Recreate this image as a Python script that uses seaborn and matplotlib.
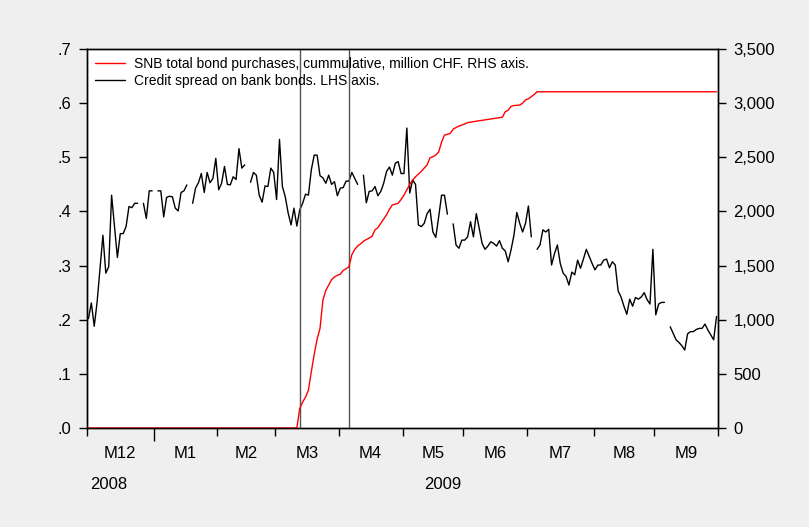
import numpy as np
import pandas as pd
import matplotlib
matplotlib.use("Agg")
import matplotlib.pyplot as plt
import matplotlib.transforms as mtransforms
from matplotlib.lines import Line2D
from matplotlib.ticker import FuncFormatter, FixedLocator
import seaborn as sns

# Business-day calendar, 1 Dec 2008 - 30 Sep 2009
dates = pd.bdate_range("2008-12-01", "2009-09-30")

# Credit spread on bank bonds (LHS), NaN on US market holidays
spread = [
    0.202, 0.231, 0.188, 0.233, 0.295, 0.356, 0.286, 0.298, 0.430, 0.372,
    0.315, 0.359, 0.359, 0.372, 0.409, 0.407, 0.415, 0.415, np.nan, 0.415,
    0.387, 0.438, 0.438, np.nan, 0.438, 0.438, 0.390, 0.426, 0.428, 0.427,
    0.406, 0.401, 0.435, 0.438, 0.449, np.nan, 0.415, 0.443, 0.453, 0.470,
    0.435, 0.472, 0.453, 0.461, 0.498, 0.440, 0.452, 0.483, 0.450, 0.449,
    0.464, 0.459, 0.516, 0.480, 0.486, np.nan, 0.454, 0.472, 0.467, 0.430,
    0.417, 0.447, 0.446, 0.480, 0.472, 0.422, 0.533, 0.446, 0.427, 0.397,
    0.375, 0.406, 0.373, 0.403, 0.415, 0.432, 0.430, 0.477, 0.504, 0.504,
    0.466, 0.462, 0.452, 0.467, 0.450, 0.455, 0.429, 0.443, 0.444, 0.456,
    0.456, 0.472, 0.461, 0.450, np.nan, 0.467, 0.416, 0.437, 0.438, 0.446,
    0.429, 0.437, 0.452, 0.474, 0.482, 0.467, 0.489, 0.492, 0.470, 0.470,
    0.554, 0.434, 0.458, 0.450, 0.375, 0.372, 0.378, 0.396, 0.404, 0.362,
    0.352, 0.390, 0.430, 0.430, 0.395, np.nan, 0.377, 0.338, 0.332, 0.347,
    0.347, 0.353, 0.381, 0.353, 0.396, 0.369, 0.341, 0.330, 0.336, 0.344,
    0.341, 0.336, 0.346, 0.332, 0.327, 0.307, 0.329, 0.356, 0.398, 0.378,
    0.362, 0.378, 0.410, 0.353, np.nan, 0.330, 0.338, 0.366, 0.362, 0.367,
    0.301, 0.322, 0.338, 0.304, 0.286, 0.280, 0.264, 0.288, 0.283, 0.310,
    0.295, 0.312, 0.330, 0.317, 0.304, 0.292, 0.301, 0.301, 0.310, 0.312,
    0.296, 0.307, 0.301, 0.253, 0.242, 0.225, 0.210, 0.238, 0.225, 0.241,
    0.238, 0.242, 0.250, 0.237, 0.229, 0.330, 0.209, 0.229, 0.232, 0.232,
    np.nan, 0.187, 0.175, 0.163, 0.158, 0.152, 0.144, 0.174, 0.178, 0.178,
    0.182, 0.184, 0.184, 0.192, 0.181, 0.172, 0.163, 0.206,
]

# SNB cumulative bond purchases, million CHF (RHS)
purchases = (
    [0] * 73
    + [180, 240, 285, 350, 520, 680, 820, 920, 1180, 1270,
       1320, 1370, 1395, 1410, 1420, 1455, 1470, 1490, 1600, 1650,
       1680, 1700, 1725, 1740, 1755, 1770, 1830, 1850, 1890, 1930,
       1970, 2020, 2060, 2068, 2075, 2110, 2150, 2200, 2250, 2290,
       2320, 2345, 2370, 2400, 2430, 2495, 2505, 2520, 2550, 2640,
       2705, 2712, 2721, 2760, 2775, 2788, 2798, 2808, 2820, 2825,
       2829, 2833, 2837, 2841, 2845, 2849, 2853, 2857, 2861, 2865,
       2870, 2920, 2935, 2970, 2978, 2980, 2982, 3000, 3030, 3040,
       3060, 3080]
    + [3105] * 63
)

event_dates = ["2009-03-12", "2009-04-06"]
month_labels = ["M12", "M1", "M2", "M3", "M4", "M5", "M6", "M7", "M8", "M9"]
year_labels = ["2008", "2009"]

legend_labels = [
    "SNB total bond purchases, cummulative, million CHF. RHS axis.",
    "Credit spread on bank bonds. LHS axis.",
]

day = np.arange(len(dates))
df = pd.DataFrame({"day": day, "spread": spread, "purchases": purchases})
# segment id so the spread line breaks at missing days
df["seg"] = df["spread"].isna().cumsum()
spread_df = df.dropna(subset=["spread"])

sns.set_theme(style="white")
plt.rcParams["font.family"] = ["Liberation Sans", "DejaVu Sans"]
plt.rcParams["text.color"] = "black"
plt.rcParams["xtick.color"] = "black"
plt.rcParams["ytick.color"] = "black"
plt.rcParams["axes.labelcolor"] = "black"

W, H = 809, 527
fig = plt.figure(figsize=(W / 100, H / 100), dpi=100, facecolor="#efefef")
ax = fig.add_axes([87 / W, (H - 428) / H, 631 / W, 379 / H])
ax.set_facecolor("white")
ax2 = ax.twinx()

sns.lineplot(data=spread_df, x="day", y="spread", units="seg", estimator=None,
             color="black", lw=1.0, ax=ax, legend=False)
sns.lineplot(data=df, x="day", y="purchases", color="#ff0000", lw=1.0,
             ax=ax2, legend=False)

for d in event_dates:
    ax.axvline(dates.get_loc(pd.Timestamp(d)), color="#555555", lw=1.0, zorder=3)

ax.set_xlim(-0.5, len(dates) - 0.5)
ax.set_ylim(0, 0.7)
ax2.set_ylim(0, 3500)
ax.set_yticks(np.arange(0, 0.71, 0.1))
ax2.set_yticks(np.arange(0, 3501, 500))
ax.yaxis.set_major_formatter(FuncFormatter(lambda v, p: f"{v:.1f}".lstrip("0")))
ax2.yaxis.set_major_formatter(FuncFormatter(lambda v, p: f"{int(v):,}"))

# month boundaries as major ticks, month names centred between them
month_idx = pd.Series(day, index=dates).groupby([dates.year, dates.month])
starts = [g.iloc[0] for _, g in month_idx]
ends = [g.iloc[-1] for _, g in month_idx]
bounds = [s - 0.5 for s in starts] + [ends[-1] + 0.5]
centers = [(s + e) / 2 for s, e in zip(starts, ends)]
ax.xaxis.set_major_locator(FixedLocator(bounds))
ax.set_xticklabels([])
ax.set_xticks(centers, minor=True)
ax.set_xticklabels(month_labels, minor=True)
ax.tick_params(axis="x", which="minor", length=0, pad=13, labelsize=12,
               labelcolor="black")
ax.tick_params(axis="x", which="major", length=6, width=1, color="black",
               direction="out", bottom=True)
year_tick = ax.xaxis.get_major_ticks()[1]
year_tick.tick1line.set_markersize(9)

ax.set_xlabel("")
ax.set_ylabel("")
ax2.set_ylabel("")
ax.tick_params(axis="y", which="major", length=6, width=1, color="black",
               direction="out", left=True, labelsize=12, pad=5,
               labelcolor="black")
ax2.tick_params(axis="y", which="major", length=6, width=1, color="black",
                direction="out", right=True, labelsize=12, pad=5,
                labelcolor="black")

trans = mtransforms.blended_transform_factory(ax.transData, ax.transAxes)
ax.text(bounds[0] + 7.5, -0.15, year_labels[0], transform=trans,
        ha="center", va="center", fontsize=12, color="black")
ax.text(bounds[1] + 100, -0.15, year_labels[1], transform=trans,
        ha="center", va="center", fontsize=12, color="black")

for a in (ax, ax2):
    for s in a.spines.values():
        s.set_color("black")
        s.set_linewidth(1.0)
        s.set_visible(True)

handles = [Line2D([], [], color="#ff0000", lw=1.0),
           Line2D([], [], color="black", lw=1.0)]
leg = ax2.legend(handles, legend_labels, loc="upper left", frameon=False,
                 fontsize=10, handlelength=2.2, handletextpad=0.6,
                 labelspacing=0.25, borderaxespad=0.15,
                 bbox_to_anchor=(0.0, 1.0))
for t in leg.get_texts():
    t.set_color("black")

fig.savefig("out.png", dpi=100, facecolor=fig.get_facecolor())
